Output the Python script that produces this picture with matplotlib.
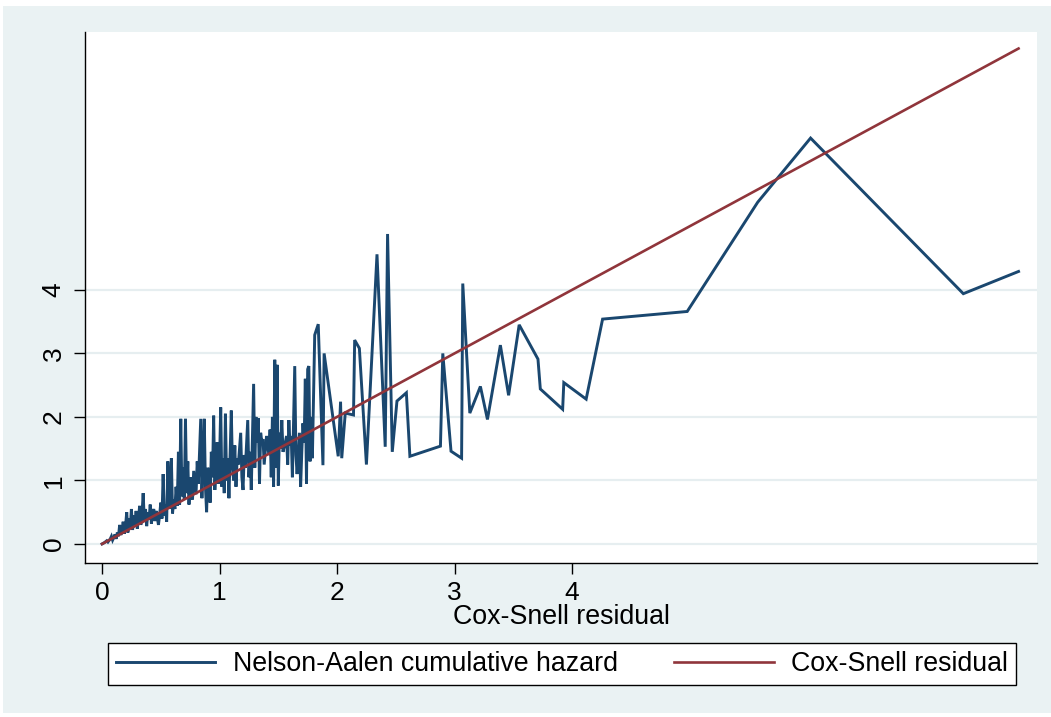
import matplotlib
matplotlib.use("Agg")
import matplotlib.pyplot as plt
from matplotlib.patches import Rectangle

plt.rcParams['font.family'] = ['Liberation Sans', 'DejaVu Sans']

# Nelson-Aalen cumulative hazard against the Cox-Snell residual
cs_resid = [0.00, 0.02, 0.04, 0.05, 0.07, 0.08, 0.09, 0.10, 0.11, 0.12,
            0.13, 0.14, 0.15, 0.16, 0.17, 0.18, 0.19, 0.20, 0.21, 0.22,
            0.23, 0.24, 0.25, 0.26, 0.27, 0.28, 0.29, 0.30, 0.31, 0.32,
            0.33, 0.34, 0.35, 0.36, 0.37, 0.38, 0.39, 0.40, 0.41, 0.42,
            0.43, 0.44, 0.45, 0.46, 0.47, 0.48, 0.49, 0.50, 0.51, 0.52,
            0.53, 0.54, 0.55, 0.56, 0.57, 0.58, 0.59, 0.60, 0.61, 0.62,
            0.63, 0.64, 0.65, 0.66, 0.67, 0.68, 0.69, 0.70, 0.71, 0.72,
            0.73, 0.74, 0.75, 0.76, 0.77, 0.78, 0.80, 0.81, 0.82, 0.84,
            0.85, 0.86, 0.87, 0.88, 0.89, 0.90, 0.91, 0.92, 0.93, 0.94,
            0.95, 0.96, 0.97, 0.98, 0.99, 1.00, 1.01, 1.02, 1.03, 1.04,
            1.05, 1.06, 1.07, 1.08, 1.10, 1.11, 1.12, 1.13, 1.14, 1.15,
            1.16, 1.18, 1.19, 1.20, 1.21, 1.22, 1.24, 1.25, 1.26, 1.27,
            1.28, 1.29, 1.30, 1.31, 1.32, 1.33, 1.34, 1.35, 1.36, 1.37,
            1.38, 1.40, 1.41, 1.42, 1.43, 1.44, 1.45, 1.46, 1.47, 1.48,
            1.49, 1.50, 1.51, 1.52, 1.53, 1.54, 1.56, 1.57, 1.58, 1.59,
            1.60, 1.61, 1.62, 1.63, 1.64, 1.65, 1.66, 1.68, 1.69, 1.70,
            1.71, 1.72, 1.73, 1.74, 1.75, 1.76, 1.77, 1.78, 1.79, 1.81,
            1.84, 1.88, 1.89, 2.01, 2.03, 2.04, 2.07, 2.14, 2.15, 2.19,
            2.25, 2.34, 2.41, 2.43, 2.47, 2.51, 2.59, 2.62, 2.88, 2.90,
            2.97, 3.06, 3.07, 3.13, 3.22, 3.28, 3.39, 3.46, 3.55, 3.71,
            3.73, 3.92, 3.93, 4.12, 4.26, 4.98, 5.58, 6.03, 7.33, 7.80]

na_hazard = [0.00, 0.02, 0.05, 0.03, 0.08, 0.12, 0.06, 0.10, 0.15, 0.08,
             0.18, 0.12, 0.30, 0.14, 0.22, 0.35, 0.16, 0.28, 0.50, 0.18,
             0.40, 0.25, 0.55, 0.22, 0.45, 0.30, 0.52, 0.24, 0.40, 0.60,
             0.30, 0.45, 0.80, 0.35, 0.55, 0.28, 0.50, 0.38, 0.62, 0.32,
             0.48, 0.55, 0.36, 0.52, 0.42, 0.30, 0.45, 0.65, 0.40, 1.10,
             0.45, 0.62, 0.35, 1.30, 0.55, 0.75, 1.35, 0.48, 0.70, 0.55,
             0.90, 0.60, 1.45, 0.62, 1.97, 0.75, 1.20, 0.70, 1.97, 0.80,
             1.30, 0.62, 1.05, 0.85, 0.70, 1.15, 0.78, 1.30, 0.95, 1.97,
             0.72, 1.40, 1.97, 0.90, 0.50, 1.20, 1.10, 0.65, 1.45, 1.05,
             2.02, 0.85, 1.25, 1.60, 0.95, 1.30, 2.15, 0.90, 1.35, 0.80,
             2.05, 1.00, 1.35, 0.72, 2.10, 1.20, 1.00, 1.55, 0.90, 1.35,
             1.25, 1.75, 1.05, 0.85, 1.40, 1.20, 1.95, 1.05, 1.45, 0.85,
             1.70, 2.52, 1.20, 2.00, 1.60, 1.98, 0.95, 1.75, 1.60, 1.65,
             1.25, 1.70, 1.55, 1.40, 1.80, 1.05, 2.00, 0.90, 2.90, 1.20,
             2.82, 0.92, 1.75, 1.50, 1.95, 1.45, 1.60, 1.70, 1.25, 1.95,
             1.55, 1.70, 1.05, 1.95, 2.80, 1.40, 1.10, 1.75, 0.90, 1.45,
             1.90, 1.60, 2.60, 0.95, 2.75, 2.80, 1.30, 2.00, 1.35, 3.29,
             3.46, 1.24, 3.00, 1.38, 2.24, 1.35, 2.06, 2.03, 3.21, 3.08,
             1.25, 4.56, 1.53, 4.88, 1.45, 2.25, 2.38, 1.38, 1.54, 3.00,
             1.46, 1.35, 4.10, 2.06, 2.48, 1.96, 3.13, 2.34, 3.45, 2.91,
             2.44, 2.12, 2.54, 2.28, 3.54, 3.66, 5.38, 6.39, 3.94, 4.29]

# reference line (residual plotted against itself)
ref_x = [0.00, 7.80]
ref_y = [0.00, 7.80]

xticks = [0, 1, 2, 3, 4]
yticks = [0, 1, 2, 3, 4]

navy = '#1A476F'
maroon = '#90353B'
bg = '#EAF2F3'

fig = plt.figure(figsize=(10.51, 7.17), dpi=100, facecolor='white')
W, H = 1051, 717
fig.patches.append(Rectangle((3 / W, 1 - 713 / H), 1 - 3 / W, (713 - 6) / H,
                             transform=fig.transFigure, facecolor=bg,
                             edgecolor='none', zorder=-10))

ax = fig.add_axes([85 / W, 1 - 563 / H, (1037 - 85) / W, (563 - 32) / H])
ax.set_facecolor('white')

na_line, = ax.plot(cs_resid, na_hazard, color=navy, lw=2.1,
                   solid_joinstyle='miter', zorder=3)
cs_line, = ax.plot(ref_x, ref_y, color=maroon, lw=1.9, zorder=4)

ax.set_xlim(-0.145, 7.957)
ax.set_ylim(-0.30, 8.06)
ax.set_xticks(xticks)
ax.set_yticks(yticks)
ax.set_xticklabels([str(t) for t in xticks], fontsize=19)
ax.set_yticklabels([str(t) for t in yticks], fontsize=19, rotation=90,
                   va='center')
ax.tick_params(axis='both', direction='out', length=8, width=1, color='black')
ax.tick_params(axis='x', pad=5)
ax.tick_params(axis='y', pad=6)

ax.grid(axis='y', color='#E6EEF0', lw=1.6, zorder=0)
ax.set_axisbelow(True)

for side in ['top', 'right']:
    ax.spines[side].set_visible(False)
ax.spines['left'].set_linewidth(1.0)
ax.spines['bottom'].set_linewidth(1.0)

ax.set_xlabel('Cox-Snell residual', fontsize=19.3, labelpad=0)
ax.xaxis.set_label_coords(0.5, -0.078)

leg = fig.legend([na_line, cs_line],
                 ['Nelson-Aalen cumulative hazard', 'Cox-Snell residual'],
                 loc='center', ncol=2, mode='expand',
                 bbox_to_anchor=(108 / W, 1 - 664 / H, (1016 - 108) / W, 0),
                 fontsize=19.3, handlelength=3.7, handletextpad=0.65,
                 borderpad=0.3, borderaxespad=0, fancybox=False,
                 frameon=True, edgecolor='black', framealpha=1)
leg.get_frame().set_linewidth(1.0)

plt.savefig('out.png', dpi=100, facecolor=fig.get_facecolor())
